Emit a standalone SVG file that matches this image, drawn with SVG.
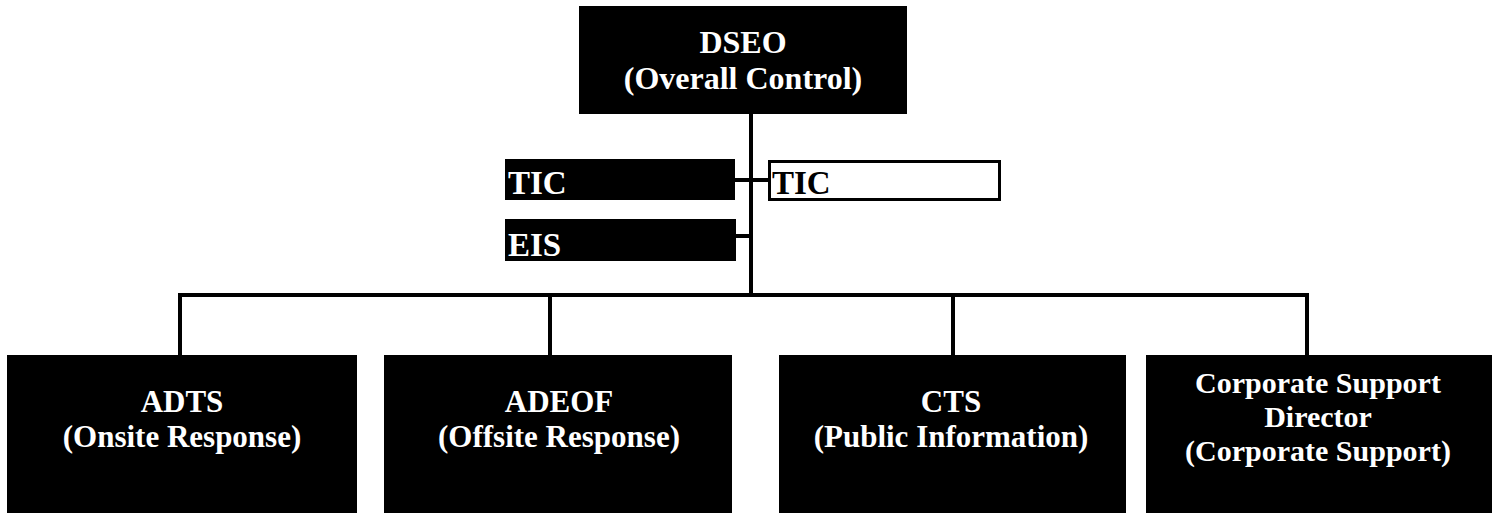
<svg xmlns="http://www.w3.org/2000/svg" width="1499" height="513" viewBox="0 0 1499 513">
<style>
.box{fill:#000;}
.wbox{fill:#fff;stroke:#000;stroke-width:3;}
.t{font-family:"Liberation Serif","Times New Roman",serif;font-weight:bold;fill:#fff;text-anchor:middle;}
.tl{font-family:"Liberation Serif","Times New Roman",serif;font-weight:bold;}
.c{stroke:#000;stroke-width:4;fill:none;}
</style>
<rect width="1499" height="513" fill="#fff"/>
<g id="connectors">
<line class="c" x1="751" y1="113" x2="751" y2="297"/>
<line class="c" x1="178" y1="295" x2="1309" y2="295"/>
<line class="c" x1="180" y1="293" x2="180" y2="355"/>
<line class="c" x1="550" y1="293" x2="550" y2="355"/>
<line class="c" x1="953" y1="293" x2="953" y2="355"/>
<line class="c" x1="1307" y1="293" x2="1307" y2="355"/>
<line class="c" x1="735" y1="180" x2="768" y2="180"/>
<line class="c" x1="735" y1="236" x2="751" y2="236"/>
</g>
<g id="dseo">
<rect class="box" x="579" y="6" width="328" height="108"/>
<text class="t" x="743" y="53" font-size="32">DSEO</text>
<text class="t" x="743" y="89" font-size="32">(Overall Control)</text>
</g>
<g id="tic-left">
<rect class="box" x="505" y="159" width="230" height="41"/>
<text class="tl" x="508" y="194" font-size="33" fill="#fff">TIC</text>
</g>
<g id="tic-right">
<rect class="wbox" x="769.5" y="161.5" width="230" height="38"/>
<text class="tl" x="772" y="194" font-size="33" fill="#000">TIC</text>
</g>
<g id="eis">
<rect class="box" x="505" y="219" width="231" height="42"/>
<text class="tl" x="508" y="256" font-size="33" fill="#fff">EIS</text>
</g>
<g id="adts">
<rect class="box" x="7" y="355" width="350" height="158"/>
<text class="t" x="182" y="412" font-size="31">ADTS</text>
<text class="t" x="182" y="447" font-size="31">(Onsite Response)</text>
</g>
<g id="adeof">
<rect class="box" x="384" y="355" width="348" height="158"/>
<text class="t" x="559" y="412" font-size="31">ADEOF</text>
<text class="t" x="559" y="447" font-size="31">(Offsite Response)</text>
</g>
<g id="cts">
<rect class="box" x="779" y="355" width="347" height="158"/>
<text class="t" x="951" y="412" font-size="31">CTS</text>
<text class="t" x="951" y="447" font-size="31">(Public Information)</text>
</g>
<g id="corporate">
<rect class="box" x="1146" y="355" width="346" height="158"/>
<text class="t" x="1318" y="393" font-size="30">Corporate Support</text>
<text class="t" x="1318" y="427" font-size="30">Director</text>
<text class="t" x="1318" y="461" font-size="30">(Corporate Support)</text>
</g>
</svg>
